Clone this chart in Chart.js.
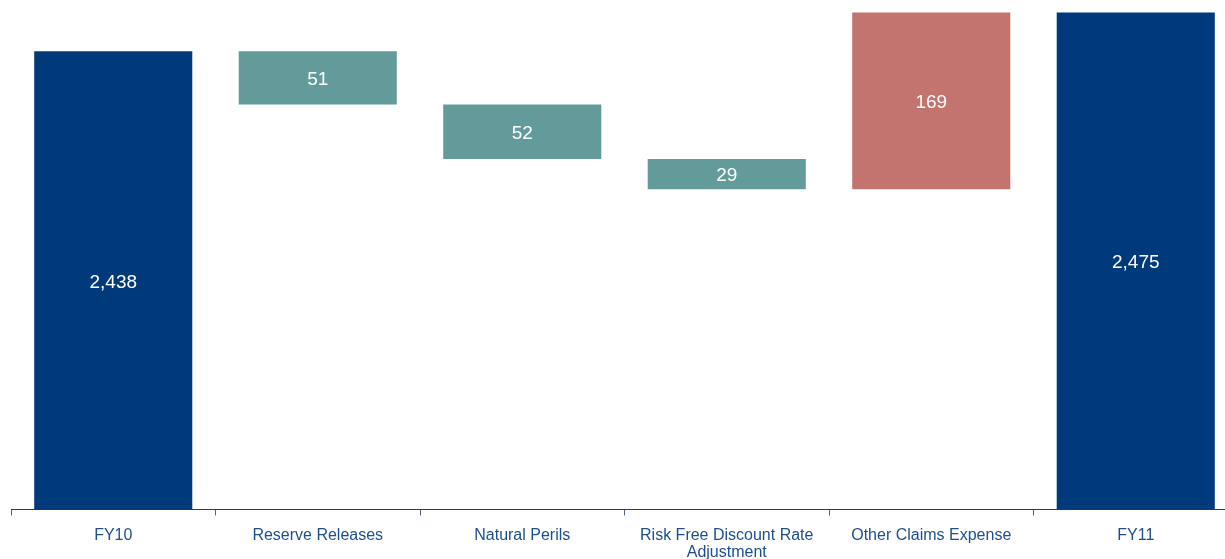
<!DOCTYPE html>
<html>
<head>
<meta charset="utf-8">
<title>Claims Expense Walk FY10 to FY11</title>
<script src="https://cdn.jsdelivr.net/npm/chart.js@4.4.1/dist/chart.umd.min.js"></script>
<style>
    html, body {
        margin: 0;
        padding: 0;
        background: #ffffff;
        overflow: hidden;
    }
    /* a little wider than the window, the last column runs off the right edge */
    #chartBox {
        position: relative;
        width: 1240px;
        height: 559px;
    }
</style>
</head>
<body>
<div id="chartBox">
    <canvas id="walkChart"></canvas>
</div>
<script>
// Waterfall data
const categories = ['FY10', 'Reserve Releases', 'Natural Perils', ['Risk Free Discount Rate', 'Adjustment'], 'Other Claims Expense', 'FY11'];
const amounts = [2438, 51, 52, 29, 169, 2475];
const steps = ['total', 'down', 'down', 'down', 'up', 'total'];

const stepColors = {
    total: '#003A7A',
    down: '#639B9B',
    up: '#C3746E'
};

// Build [start, end] pairs for the floating bars
function buildRanges() {
    const ranges = [];
    let running = 0;
    amounts.forEach((value, i) => {
        const kind = steps[i];
        if (kind === 'total') {
            running = value;
            ranges.push([0, value]);
        } else if (kind === 'down') {
            ranges.push([running - value, running]);
            running -= value;
        } else {
            ranges.push([running, running + value]);
            running += value;
        }
    });
    return ranges;
}

// White value labels in the middle of the visible part of each bar
const barValueLabels = {
    id: 'barValueLabels',
    afterDatasetsDraw(chart) {
        const ctx = chart.ctx;
        const area = chart.chartArea;
        const meta = chart.getDatasetMeta(0);
        ctx.save();
        ctx.fillStyle = '#ffffff';
        ctx.font = '19px "Liberation Sans", Arial, sans-serif';
        ctx.textAlign = 'center';
        ctx.textBaseline = 'middle';
        meta.data.forEach((bar, i) => {
            const top = Math.max(Math.min(bar.y, bar.base), area.top);
            const bottom = Math.min(Math.max(bar.y, bar.base), area.bottom);
            ctx.fillText(amounts[i].toLocaleString('en-US'), bar.x, (top + bottom) / 2 + 2);
        });
        ctx.restore();
    }
};

document.addEventListener('DOMContentLoaded', function() {
    const ctx = document.getElementById('walkChart');

    new Chart(ctx.getContext('2d'), {
        type: 'bar',
        data: {
            labels: categories,
            datasets: [{
                data: buildRanges(),
                backgroundColor: steps.map(kind => stepColors[kind]),
                borderWidth: 0,
                categoryPercentage: 1,
                barPercentage: 0.773
            }]
        },
        options: {
            responsive: true,
            maintainAspectRatio: false,
            animation: false,
            layout: {
                padding: { left: 11, right: 2, top: 0, bottom: 0 }
            },
            plugins: {
                legend: { display: false },
                tooltip: { enabled: false }
            },
            scales: {
                x: {
                    afterFit: function(scale) {
                        scale.height = 49.5;
                    },
                    border: {
                        display: true,
                        color: '#1F3F73',
                        width: 1
                    },
                    grid: {
                        display: true,
                        offset: true,
                        drawOnChartArea: false,
                        drawTicks: true,
                        tickLength: 6,
                        color: '#4A6490',
                        lineWidth: 1
                    },
                    ticks: {
                        color: '#1F4E8C',
                        padding: 12,
                        maxRotation: 0,
                        autoSkip: false,
                        font: {
                            family: '"Liberation Sans", Arial, sans-serif',
                            size: 16,
                            lineHeight: '17px'
                        }
                    }
                },
                y: {
                    display: false,
                    min: 2000,
                    max: 2487
                }
            }
        },
        plugins: [barValueLabels]
    });
});
</script>
</body>
</html>
